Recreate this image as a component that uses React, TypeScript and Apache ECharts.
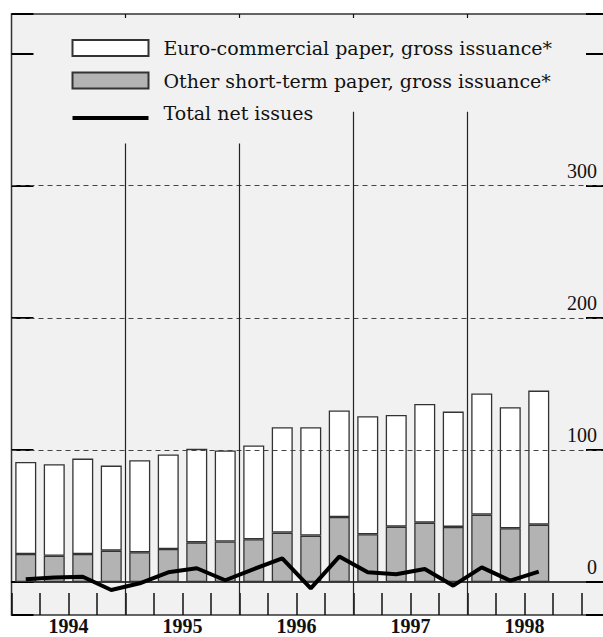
import React, { useEffect, useRef } from "react";
import * as echarts from "echarts";

const quarters = [
  "1994 Q1", "1994 Q2", "1994 Q3", "1994 Q4",
  "1995 Q1", "1995 Q2", "1995 Q3", "1995 Q4",
  "1996 Q1", "1996 Q2", "1996 Q3", "1996 Q4",
  "1997 Q1", "1997 Q2", "1997 Q3", "1997 Q4",
  "1998 Q1", "1998 Q2", "1998 Q3", "1998 Q4",
  "1999 Q1",
];
const years = ["1994", "1995", "1996", "1997", "1998"];
// Year boundaries, in quarters from the first quarter shown
const yearBoundaries = [4, 8, 12, 16];
const yearLineTops = [332, 332, 356, 356];

const euroPaper = [69.7, 69.2, 72.2, 64.4, 69.7, 71.5, 70.8, 68.9, 71.0, 79.8, 82.1, 80.6, 89.4, 84.6, 89.9, 87.3, 91.7, 91.6, 101.5];
const otherPaper = [21.2, 19.9, 21.2, 23.7, 22.5, 25.0, 30.0, 30.6, 32.3, 37.4, 35.1, 49.2, 36.1, 41.9, 44.9, 41.7, 51.0, 40.7, 43.4];
const netIssues = [2.0, 3.3, 4.0, -6.1, -1.0, 7.3, 10.4, 1.3, 9.8, 17.9, -4.8, 19.2, 7.3, 5.8, 9.8, -2.8, 11.1, 1.0, 7.8];

const gridValues = [100, 200, 300];
const yLabels = [0, 100, 200, 300];

const EURO = "Euro-commercial paper, gross issuance*";
const OTHER = "Other short-term paper, gross issuance*";
const NET = "Total net issues";
const FONT = "'DejaVu Serif', serif";
const NUM_FONT = "'Liberation Serif', serif";

export default function App() {
  const ref = useRef<HTMLDivElement>(null);
  useEffect(() => {
    if (!ref.current) return;
    const chart = echarts.init(ref.current, null, { renderer: "svg" });
    const yMin = -25;
    const yMax = 430;
    const option = {
      animation: false,
      backgroundColor: "#ffffff",
      grid: {
        left: 11.5,
        top: 14,
        width: 598.5,
        height: 601,
        outerBoundsMode: "none",
        containLabel: false,
        show: true,
        backgroundColor: "#f1f1f1",
        borderColor: "#333",
        borderWidth: 1.5,
      },
      legend: {
        orient: "vertical",
        left: 71.5,
        top: 38.5,
        padding: 0,
        itemWidth: 76,
        itemHeight: 16,
        itemGap: 13.5,
        selectedMode: false,
        textStyle: { fontFamily: FONT, fontSize: 19, color: "#111", padding: [0, 0, 0, 10] },
        data: [
          { name: EURO, icon: "rect" },
          { name: OTHER, icon: "rect" },
          { name: NET, icon: "path://M0,0L76,0L0,0Z M0,10L76,10L76,14L0,14Z", itemStyle: { color: "#000", borderWidth: 0 } },
        ],
      },
      xAxis: [
        {
          type: "category",
          data: quarters,
          boundaryGap: true,
          axisLine: { show: true, onZero: true, lineStyle: { color: "#000", width: 1.5 } },
          axisTick: { show: false },
          axisLabel: { show: false },
          splitLine: { show: false },
        },
        {
          type: "value",
          min: 0,
          max: 21,
          interval: 1,
          position: "bottom",
          axisLine: { show: false, onZero: false },
          axisTick: { show: true, inside: true, length: 22, lineStyle: { color: "#111", width: 1.5 } },
          axisLabel: {
            show: true,
            margin: 1,
            fontFamily: NUM_FONT,
            fontSize: 20,
            lineHeight: 20,
            fontWeight: "bold",
            color: "#111",
            formatter: (v: number) => ((v - 2) % 4 === 0 && years[(v - 2) / 4]) ? years[(v - 2) / 4] : "",
          },
          splitLine: { show: false },
        },
        {
          type: "category",
          data: quarters,
          position: "top",
          boundaryGap: true,
          axisLine: { show: false, onZero: false },
          axisTick: {
            show: true,
            inside: true,
            length: 4,
            interval: (i: number) => yearBoundaries.indexOf(i) >= 0,
            lineStyle: { color: "#111", width: 1.2 },
          },
          axisLabel: { show: false },
          splitLine: { show: false },
        },
      ],
      yAxis: [
        {
          type: "value",
          min: yMin,
          max: yMax,
          position: "left",
          axisLine: { show: false },
          axisTick: { show: true, inside: true, length: 22, lineStyle: { color: "#000", width: 2 } },
          axisLabel: { show: false },
          splitLine: { show: false },
        },
        {
          type: "value",
          min: yMin,
          max: yMax,
          position: "right",
          axisLine: { show: false },
          axisTick: { show: true, inside: true, length: 24, lineStyle: { color: "#000", width: 2 } },
          axisLabel: {
            show: true,
            inside: true,
            margin: 13,
            fontFamily: NUM_FONT,
            fontSize: 20,
            color: "#111",
            verticalAlign: "bottom",
            padding: [0, 0, 5, 0],
            formatter: (v: number) => (yLabels.indexOf(v) >= 0 ? String(v) : ""),
          },
          splitLine: { show: false },
        },
      ],
      series: [
        {
          name: OTHER,
          type: "bar",
          stack: "paper",
          xAxisIndex: 0,
          yAxisIndex: 0,
          barWidth: 21,
          data: otherPaper,
          itemStyle: { color: "#b3b3b3", borderColor: "#333", borderWidth: 1.3 },
        },
        {
          name: EURO,
          type: "bar",
          stack: "paper",
          xAxisIndex: 0,
          yAxisIndex: 0,
          barWidth: 21,
          data: euroPaper,
          itemStyle: { color: "#ffffff", borderColor: "#333", borderWidth: 1.3 },
        },
        {
          name: NET,
          type: "line",
          xAxisIndex: 0,
          yAxisIndex: 0,
          data: netIssues,
          symbol: "none",
          showSymbol: false,
          z: 5,
          lineStyle: { color: "#000", width: 4 },
          itemStyle: { color: "#000" },
        },
        {
          type: "line",
          xAxisIndex: 1,
          yAxisIndex: 0,
          data: [],
          silent: true,
          z: 1,
          markLine: {
            silent: true,
            symbol: "none",
            label: { show: false },
            lineStyle: { color: "#222", width: 1.2, type: "solid" },
            data: [
              ...gridValues.map((v) => ({
                yAxis: v,
                lineStyle: { color: "#444", width: 1.2, type: [5, 4] },
              })),
              ...yearBoundaries.map((b, i) => [
                { coord: [b, yMin], lineStyle: { color: "#222", width: 1.2, type: "solid" } },
                { coord: [b, yearLineTops[i]] },
              ]),
            ],
          },
        },
      ],
    };
    chart.setOption(option as any);
    return () => chart.dispose();
  }, []);
  return (
    <div
      ref={ref}
      style={{ position: "fixed", left: 0, top: 0, width: 603, height: 637 }}
    />
  );
}
